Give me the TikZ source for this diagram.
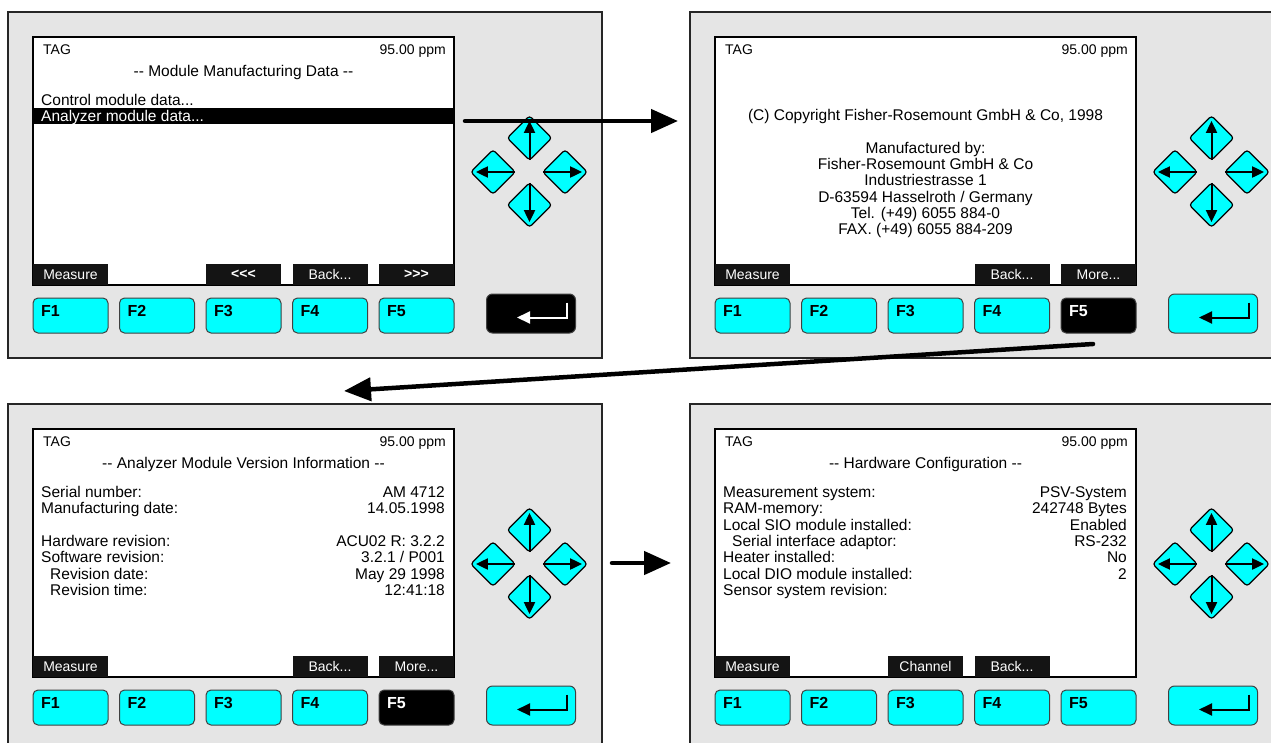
\documentclass[tikz,border=0pt]{standalone}
\usepackage{fontspec}
\setmainfont{Liberation Sans}[Ligatures=TeXOff]
\usetikzlibrary{arrows.meta,shapes.geometric}

\definecolor{keycyan}{RGB}{0,255,255}
\definecolor{panelgray}{RGB}{229,229,229}

\def\scrfont{\fontsize{15.5}{16.3}\selectfont}
\def\hdfont{\fontsize{14}{16}\selectfont}

% #1 name, #2 shift, #3 dark F key (0 = none), #4 enter fill, #5 enter arrow
\newcommand\devframe[5]{%
\begin{scope}[shift={#2}]
  \node[panel] (#1) at (297,173) {};
  \node[screen] (#1scr) at (235.5,149) {};
  \foreach \i in {1,...,5}{
    \ifnum\i=#3\relax \def\fkfill{black}\def\fkc{white}\else\def\fkfill{keycyan}\def\fkc{black}\fi
    \node[fkey,fill=\fkfill] (#1f\i) at ({62.5+(\i-1)*86.5},303.5) {};
    \node[fkeytxt,text=\fkc] (#1l\i) at ([shift={(8.5,19)}]#1f\i.north west) {F\i};
  }
  \node[enterkey,fill=#4] (#1ent) at (523,301.5) {};
  \draw[line width=2pt,-{Triangle[length=13pt,width=12pt]},#5]
    ([shift={(-9,9)}]#1ent.north east) |- ([shift={(31,24)}]#1ent.north west);
  \node[navkey] (#1up) at (521.5,126) {};
  \node[navkey] (#1lt) at (485,160) {};
  \node[navkey] (#1rt) at (557,160) {};
  \node[navkey] (#1dn) at (521.5,193) {};
  \draw[navarrow] (#1up.south) -- (#1up.north);
  \draw[navarrow] (#1dn.north) -- (#1dn.south);
  \draw[navarrow] (#1lt.east) -- (#1lt.west);
  \draw[navarrow] (#1rt.west) -- (#1rt.east);
  \node[hdl] (#1tag) at (35,42) {TAG};
  \node[hdr] (#1ppm) at (438,42) {95.00 ppm};
\end{scope}}

\begin{document}
\begin{tikzpicture}[x=1pt,y=-1pt,
  panel/.style={draw=black!85,line width=1.5pt,fill=panelgray,minimum width=594pt,minimum height=346pt,inner sep=0pt},
  screen/.style={draw=black,line width=2.5pt,fill=white,minimum width=421pt,minimum height=248pt,inner sep=0pt},
  fkey/.style={draw=black!75,line width=1pt,rounded corners=5pt,minimum width=75pt,minimum height=35pt,inner sep=0pt},
  fkeytxt/.style={anchor=base west,inner sep=0pt,font=\bfseries\fontsize{16}{18}\selectfont},
  enterkey/.style={draw=black!75,line width=1pt,rounded corners=6pt,minimum width=89pt,minimum height=39pt,inner sep=0pt},
  navkey/.style={diamond,draw=black,line width=1.2pt,fill=keycyan,rounded corners=3pt,minimum width=45pt,minimum height=45pt,inner sep=0pt},
  navarrow/.style={line width=2pt,-{Triangle[length=12pt,width=11pt]},shorten <=1pt,shorten >=6pt},
  softkey/.style={fill=black!92,text=white,minimum width=75pt,minimum height=21pt,inner sep=0pt,font=\hdfont},
  selbar/.style={fill=black,minimum width=419pt,minimum height=16pt,inner sep=0pt},
  hdl/.style={anchor=base west,inner sep=0pt,font=\hdfont},
  hdr/.style={anchor=base east,inner sep=0pt,font=\hdfont},
  ttl/.style={anchor=base,inner sep=0pt,font=\scrfont},
  rowl/.style={anchor=base west,inner sep=0pt,font=\scrfont},
  rowr/.style={anchor=base east,inner sep=0pt,font=\scrfont},
  flow/.style={line width=4.5pt,line cap=round,-{Triangle[length=27pt,width=23pt]}}]
  \useasboundingbox (0,0) rectangle (1271,742);
  \clip (0,0) rectangle (1271,742);

  \devframe{pA}{(8,12)}{0}{black}{white}
  \devframe{pB}{(690,12)}{5}{keycyan}{black}
  \devframe{pC}{(8,404)}{5}{keycyan}{black}
  \devframe{pD}{(690,404)}{0}{keycyan}{black}

  % module manufacturing data
  \begin{scope}[shift={(8,12)}]
    \node[ttl] (pAttl) at (235.5,64.5) {-- Module Manufacturing Data --};
    \node[rowl] (pAr0) at (33,93.5) {Control module data...};
    \node[selbar] (pAsel) at (235.5,104) {};
    \node[rowl,text=white] (pAr1) at (33,109.8) {Analyzer module data...};
    \node[softkey] (pAs1) at (62.5,262.5) {Measure};
    \node[softkey,font=\bfseries\hdfont] (pAs3) at (235.5,262.5) {<<<};
    \node[softkey] (pAs4) at (322,262.5) {Back...};
    \node[softkey,font=\bfseries\hdfont] (pAs5) at (408.5,262.5) {>>>};
  \end{scope}

  % copyright
  \begin{scope}[shift={(690,12)}]
    \node[ttl] (pBc0) at (235.5,108.5) {(C) Copyright Fisher-Rosemount GmbH \& Co, 1998};
    \node[ttl] (pBc1) at (235.5,141.5) {Manufactured by:};
    \node[ttl] (pBc2) at (235.5,157.7) {Fisher-Rosemount GmbH \& Co};
    \node[ttl] (pBc3) at (235.5,173.9) {Industriestrasse 1};
    \node[ttl] (pBc4) at (235.5,190.1) {D-63594 Hasselroth / Germany};
    \node[ttl] (pBc5) at (235.5,206.3) {Tel. (+49) 6055 884-0};
    \node[ttl] (pBc6) at (235.5,222.5) {FAX. (+49) 6055 884-209};
    \node[softkey] (pBs1) at (62.5,262.5) {Measure};
    \node[softkey] (pBs4) at (322,262.5) {Back...};
    \node[softkey] (pBs5) at (408.5,262.5) {More...};
  \end{scope}

  % analyzer module version
  \begin{scope}[shift={(8,404)}]
    \node[ttl] (pCttl) at (235.5,64.5) {-- Analyzer Module Version Information --};
    \node[rowl] (pCl0) at (33,93.5) {Serial number:};
    \node[rowr] (pCr0) at (437,93.5) {AM 4712};
    \node[rowl] (pCl1) at (33,109.8) {Manufacturing date:};
    \node[rowr] (pCr1) at (437,109.8) {14.05.1998};
    \node[rowl] (pCl3) at (33,142.4) {Hardware revision:};
    \node[rowr] (pCr3) at (437,142.4) {ACU02 R: 3.2.2};
    \node[rowl] (pCl4) at (33,158.7) {Software revision:};
    \node[rowr] (pCr4) at (437,158.7) {3.2.1 / P001};
    \node[rowl] (pCl5) at (42,175) {Revision date:};
    \node[rowr] (pCr5) at (437,175) {May 29 1998};
    \node[rowl] (pCl6) at (42,191.3) {Revision time:};
    \node[rowr] (pCr6) at (437,191.3) {12:41:18};
    \node[softkey] (pCs1) at (62.5,262.5) {Measure};
    \node[softkey] (pCs4) at (322,262.5) {Back...};
    \node[softkey] (pCs5) at (408.5,262.5) {More...};
  \end{scope}

  % hardware configuration
  \begin{scope}[shift={(690,404)}]
    \node[ttl] (pDttl) at (235.5,64.5) {-- Hardware Configuration --};
    \node[rowl] (pDl0) at (33,93.5) {Measurement system:};
    \node[rowr] (pDr0) at (437,93.5) {PSV-System};
    \node[rowl] (pDl1) at (33,109.8) {RAM-memory:};
    \node[rowr] (pDr1) at (437,109.8) {242748 Bytes};
    \node[rowl] (pDl2) at (33,126.1) {Local SIO module installed:};
    \node[rowr] (pDr2) at (437,126.1) {Enabled};
    \node[rowl] (pDl3) at (42,142.4) {Serial interface adaptor:};
    \node[rowr] (pDr3) at (437,142.4) {RS-232};
    \node[rowl] (pDl4) at (33,158.7) {Heater installed:};
    \node[rowr] (pDr4) at (437,158.7) {No};
    \node[rowl] (pDl5) at (33,175) {Local DIO module installed:};
    \node[rowr] (pDr5) at (437,175) {2};
    \node[rowl] (pDl6) at (33,191.3) {Sensor system revision:};
    \node[softkey] (pDs1) at (62.5,262.5) {Measure};
    \node[softkey] (pDs3) at (235.5,262.5) {Channel};
    \node[softkey] (pDs4) at (322,262.5) {Back...};
  \end{scope}

  \coordinate (go1) at (465,121);
  \coordinate (to1) at (678,121);
  \coordinate (go2) at (1093,344);
  \coordinate (to2) at (344,391);
  \coordinate (go3) at (612,563);
  \coordinate (to3) at (671,563);
  \draw[flow] (go1) -- (to1);
  \draw[flow] (go2) -- (to2);
  \draw[flow] (go3) -- (to3);
\end{tikzpicture}
\end{document}
